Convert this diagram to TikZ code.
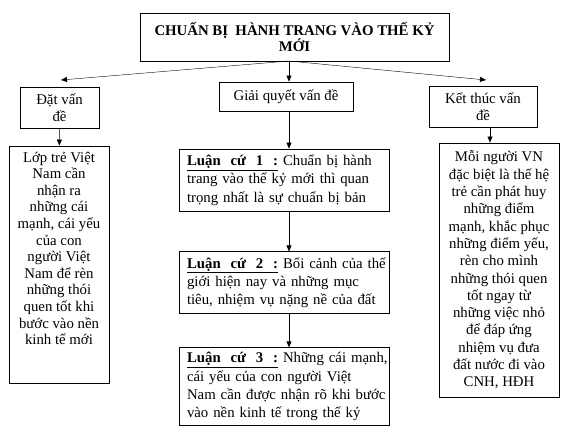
\documentclass[tikz,border=0pt]{standalone}
\usepackage{fontspec}
\setmainfont{Liberation Serif}
\usepackage{tikz}
\usetikzlibrary{arrows.meta,positioning}
\tikzset{>={Triangle[length=6pt,width=5pt]}}
\tikzset{
    box/.style={rectangle,draw,line width=0.9pt,inner xsep=4pt,inner ysep=0pt},
    titlebox/.style={box,align=center,font=\fontsize{14.8}{16}\selectfont\bfseries},
    headbox/.style={box,align=center,font=\fontsize{14.8}{17}\selectfont},
    tallbox/.style={box,align=center},
    argbox/.style={box,inner xsep=8pt,text width=194pt,minimum width=210pt},
}
\newcommand{\jline}[1]{\hbox to\hsize{#1}\par}
\newcommand{\lc}[1]{\underline{\textbf{Luận\ \ cứ\ \ #1\ \ :}}}

\begin{document}
\begin{tikzpicture}[x=1pt,y=-1pt]
        \useasboundingbox (0,0) rectangle (585,428);
        \node[titlebox,minimum width=309pt,minimum height=48pt] (title) at (294.5,37) {CHUẨN BỊ\ \ HÀNH TRANG VÀO THẾ KỶ\\MỚI};
        \coordinate (apex) at (289,61);
        \coordinate (ltip) at (61,80);
        \coordinate (rtip) at (486,80);

        \node[headbox,minimum width=79pt,minimum height=41pt] (dat) at (59.5,107.5) {Đặt vấn\\đề};
        \node[headbox,minimum width=134pt,minimum height=29pt] (giai) at (286,96.5) {Giải quyết vấn đề};
        \node[headbox,minimum width=108pt,minimum height=41pt] (ket) at (483,106.5) {Kết thúc vấn\\đề};

        \node[tallbox,minimum width=100pt,minimum height=237pt,font=\fontsize{14.8}{16.6}\selectfont] (lop) at (59,264.5)
            {Lớp trẻ Việt\\Nam cần\\nhận ra\\những cái\\mạnh, cái yếu\\của con\\người Việt\\Nam để rèn\\những thói\\quen tốt khi\\bước vào nền\\kinh tế mới\\[16pt]\mbox{}};
        \node[tallbox,minimum width=120pt,minimum height=254pt,font=\fontsize{14.8}{17.3}\selectfont] (moi) at (499,270)
            {Mỗi người VN\\đặc biệt là thế hệ\\trẻ cần phát huy\\những điểm\\mạnh, khắc phục\\những điểm yếu,\\rèn cho mình\\những thói quen\\tốt ngay từ\\những việc nhỏ\\để đáp ứng\\nhiệm vụ đưa\\đất nước đi vào\\CNH, HĐH};

        \node[argbox,minimum height=62pt,font=\fontsize{14.8}{18.3}\selectfont] (lc1) at (284,180)
            {\jline{\lc{1} Chuẩn bị hành}\jline{trang vào thế kỷ mới thì quan}\jline{trọng nhất là sự chuẩn bị bản}};
        \node[argbox,minimum height=62pt,font=\fontsize{14.8}{18.3}\selectfont,below=40pt of lc1] (lc2)
            {\jline{\lc{2} Bối cảnh của thế}\jline{giới hiện nay và những mục}\jline{tiêu, nhiệm vụ nặng nề của đất}};
        \node[argbox,minimum height=78pt,font=\fontsize{14.8}{18.3}\selectfont,below=33pt of lc2] (lc3)
            {\jline{\lc{3} Những cái mạnh,}\jline{cái yếu của con người Việt}\jline{Nam cần được nhận rõ khi bước}\jline{vào nền kinh tế trong thế kỷ}};

        \draw[->] (apex) -- (ltip);
        \draw[->] (apex) -- (rtip);
        \draw[->] (apex) -- (apex |- giai.north);
        \draw[->] (dat) -- (lop);
        \draw[->] ([xshift=7pt]ket.south) -- ([xshift=7pt]ket.south |- moi.north);
        \draw[->] (giai.south -| apex) -- (apex |- lc1.north);
        \draw[->] (lc1.south -| apex) -- (apex |- lc2.north);
        \draw[->] (lc2.south -| apex) -- (apex |- lc3.north);
\end{tikzpicture}
\end{document}
